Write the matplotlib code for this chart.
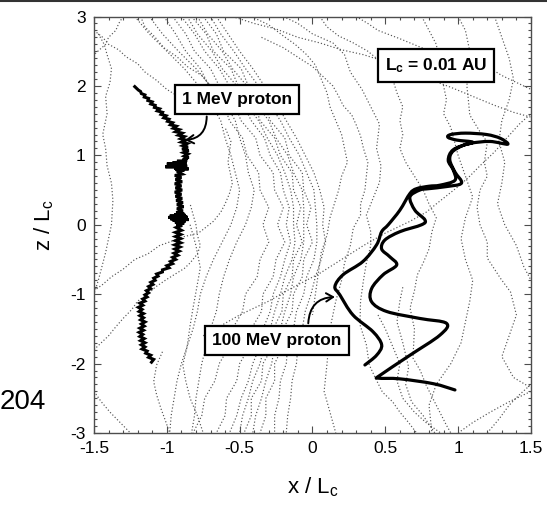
import matplotlib
matplotlib.use("Agg")
import matplotlib.pyplot as plt
from matplotlib.lines import Line2D
from matplotlib.path import Path
from matplotlib.patches import PathPatch

plt.rcParams['font.family'] = ['Liberation Sans', 'DejaVu Sans']
plt.rcParams['mathtext.fontset'] = 'custom'
plt.rcParams['mathtext.rm'] = 'Liberation Sans'
plt.rcParams['mathtext.it'] = 'Liberation Sans:italic'
plt.rcParams['mathtext.bf'] = 'Liberation Sans:bold'

# ---- axis setup ----
x_ticks = [-1.5, -1, -0.5, 0, 0.5, 1, 1.5]
x_tick_labels = ['-1.5', '-1', '-0.5', '0', '0.5', '1', '1.5']
z_ticks = [-3, -2, -1, 0, 1, 2, 3]
z_tick_labels = ['-3', '-2', '-1', '0', '1', '2', '3']

# ---- 1 MeV proton trajectory (x, z), in pieces from top to bottom ----
p1_upper_x = [-1.220, -1.205, -1.195, -1.180, -1.175, -1.150, -1.155, -1.125, -1.130, -1.100,
              -1.110, -1.080, -1.085, -1.050, -1.065, -1.030, -1.040, -1.005, -1.020, -0.985,
              -0.995, -0.960, -0.975, -0.935, -0.955, -0.915, -0.940, -0.895, -0.920, -0.880,
              -0.905, -0.870, -0.900, -0.860, -0.890, -0.855, -0.895, -0.850, -0.885, -0.855,
              -0.880, -0.850]
p1_upper_z = [1.99, 1.96, 1.94, 1.92, 1.89, 1.87, 1.84, 1.82, 1.79, 1.77,
              1.74, 1.72, 1.69, 1.67, 1.64, 1.62, 1.59, 1.57, 1.54, 1.52,
              1.49, 1.47, 1.44, 1.42, 1.39, 1.37, 1.34, 1.32, 1.29, 1.27,
              1.24, 1.22, 1.19, 1.17, 1.14, 1.12, 1.09, 1.07, 1.04, 1.02,
              0.99, 0.97]
p1_burst1_x = [-0.890, -0.860, -0.930, -0.870, -0.960, -0.865, -1.000, -0.870, -0.980, -0.860,
               -1.010, -0.875, -0.950, -0.850, -0.940, -0.880, -0.930]
p1_burst1_z = [0.94, 0.925, 0.915, 0.905, 0.895, 0.885, 0.875, 0.865, 0.855, 0.845,
               0.835, 0.825, 0.815, 0.805, 0.795, 0.785, 0.77]
p1_mid_x = [-0.895, -0.945, -0.900, -0.940, -0.895, -0.945, -0.900, -0.940, -0.895, -0.945,
            -0.900, -0.940, -0.895, -0.935, -0.890, -0.930, -0.885, -0.930, -0.890]
p1_mid_z = [0.73, 0.71, 0.68, 0.65, 0.62, 0.59, 0.56, 0.53, 0.50, 0.47,
            0.44, 0.41, 0.38, 0.35, 0.32, 0.29, 0.26, 0.23, 0.20]
p1_burst2_x = [-0.935, -0.880, -0.950, -0.870, -0.980, -0.860, -0.990, -0.855, -0.975, -0.850,
               -0.960, -0.870, -0.945, -0.880, -0.935, -0.895]
p1_burst2_z = [0.17, 0.155, 0.145, 0.135, 0.125, 0.115, 0.105, 0.095, 0.085, 0.075,
               0.065, 0.055, 0.04, 0.025, 0.01, -0.01]
p1_lower_x = [-0.935, -0.900, -0.940, -0.905, -0.940, -0.905, -0.940, -0.905, -0.945, -0.910,
              -0.945, -0.915, -0.950, -0.925, -0.960, -0.940, -0.975, -0.960, -1.000, -0.985,
              -1.030, -1.030, -1.070, -1.060, -1.090, -1.080, -1.110, -1.095, -1.125, -1.110,
              -1.140, -1.125, -1.150, -1.135, -1.165, -1.150, -1.185, -1.165, -1.195, -1.170,
              -1.190, -1.160, -1.185, -1.160, -1.180, -1.150, -1.175, -1.155, -1.185, -1.160,
              -1.190, -1.165, -1.185, -1.155, -1.180, -1.150, -1.175, -1.150, -1.170, -1.135,
              -1.145, -1.110, -1.125, -1.090, -1.105]
p1_lower_z = [-0.04, -0.08, -0.11, -0.14, -0.17, -0.20, -0.23, -0.26, -0.29, -0.32,
              -0.35, -0.38, -0.41, -0.44, -0.47, -0.50, -0.53, -0.56, -0.59, -0.62,
              -0.65, -0.68, -0.71, -0.74, -0.77, -0.80, -0.83, -0.86, -0.89, -0.92,
              -0.95, -0.98, -1.01, -1.04, -1.07, -1.10, -1.13, -1.16, -1.19, -1.22,
              -1.25, -1.28, -1.31, -1.34, -1.37, -1.40, -1.43, -1.46, -1.49, -1.52,
              -1.55, -1.58, -1.61, -1.64, -1.67, -1.70, -1.73, -1.76, -1.79, -1.82,
              -1.85, -1.88, -1.91, -1.94, -1.98]

p1_x = p1_upper_x + p1_burst1_x + p1_mid_x + p1_burst2_x + p1_lower_x
p1_z = p1_upper_z + p1_burst1_z + p1_mid_z + p1_burst2_z + p1_lower_z

# ---- 100 MeV proton trajectory (x, z) ----
p100_x = [0.360, 0.440, 0.475, 0.415, 0.278, 0.188, 0.154, 0.210, 0.346, 0.440,
          0.475, 0.520, 0.600, 0.669, 0.715, 0.800, 0.875, 0.978, 0.966, 0.932,
          0.966, 1.080, 1.218, 1.340, 1.290, 1.195, 1.050, 0.950, 0.930, 0.990,
          1.100, 1.030, 0.960, 0.943, 0.978, 1.023, 0.920, 0.800, 0.737, 0.669,
          0.703, 0.772, 0.749, 0.600, 0.497, 0.475, 0.530, 0.578, 0.485, 0.406,
          0.406, 0.510, 0.737, 0.920, 0.875, 0.669, 0.463, 0.452, 0.600, 0.830,
          0.978]
p100_z = [-2.02, -1.88, -1.73, -1.54, -1.30, -1.01, -0.89, -0.72, -0.53, -0.29,
          -0.10, 0.00, 0.21, 0.45, 0.52, 0.555, 0.57, 0.64, 0.79, 0.93,
          1.08, 1.17, 1.20, 1.16, 1.245, 1.30, 1.32, 1.30, 1.26, 1.22,
          1.19, 1.14, 1.05, 0.93, 0.76, 0.60, 0.55, 0.52, 0.50, 0.40,
          0.21, 0.07, 0.00, -0.10, -0.22, -0.35, -0.46, -0.58, -0.72, -0.92,
          -1.11, -1.25, -1.35, -1.42, -1.59, -1.88, -2.17, -2.21, -2.22, -2.29,
          -2.38]

# ---- magnetic field lines ----
# lines of the central bundle share these z levels
band_z = [3.0, 2.75, 2.5, 2.25, 2.0, 1.75, 1.5, 1.25, 1.0, 0.75, 0.5, 0.25, 0.0,
          -0.25, -0.5, -0.75, -1.0, -1.25, -1.5, -1.75, -2.0, -2.25, -2.5, -2.75, -3.0]
band_a1_x = [-0.90, -0.81, -0.74, -0.64, -0.57, -0.48, -0.42, -0.33, -0.29, -0.22, -0.20, -0.16, -0.18,
             -0.15, -0.19, -0.22, -0.27, -0.29, -0.34, -0.36, -0.41, -0.44, -0.49, -0.52, -0.57]
band_a2_x = [-0.86, -0.79, -0.69, -0.62, -0.52, -0.46, -0.37, -0.31, -0.24, -0.19, -0.15, -0.13, -0.13,
             -0.12, -0.14, -0.19, -0.22, -0.26, -0.29, -0.33, -0.36, -0.41, -0.44, -0.48, -0.50]
band_a3_x = [-0.83, -0.73, -0.68, -0.56, -0.51, -0.40, -0.36, -0.26, -0.22, -0.14, -0.13, -0.08, -0.11,
             -0.07, -0.13, -0.14, -0.20, -0.21, -0.27, -0.27, -0.34, -0.35, -0.42, -0.42, -0.47]
band_a4_x = [-0.79, -0.72, -0.62, -0.55, -0.45, -0.39, -0.30, -0.25, -0.17, -0.13, -0.07, -0.06, -0.06,
             -0.06, -0.08, -0.13, -0.15, -0.19, -0.22, -0.26, -0.28, -0.32, -0.35, -0.39, -0.41]
band_a5_x = [-0.75, -0.66, -0.61, -0.49, -0.44, -0.33, -0.29, -0.19, -0.16, -0.07, -0.06, -0.01, -0.04,
             0.00, -0.06, -0.07, -0.13, -0.14, -0.20, -0.20, -0.26, -0.26, -0.32, -0.32, -0.36]
band_a6_x = [-0.96, -0.87, -0.81, -0.70, -0.64, -0.54, -0.49, -0.39, -0.36, -0.27, -0.26, -0.20, -0.24,
             -0.19, -0.25, -0.27, -0.34, -0.35, -0.42, -0.43, -0.50, -0.52, -0.59, -0.60, -0.66]
band_a7_x = [-0.70, -0.63, -0.54, -0.46, -0.37, -0.30, -0.22, -0.16, -0.09, -0.04, 0.01, 0.02, 0.03,
             0.03, 0.01, -0.04, -0.06, -0.11, -0.13, -0.17, -0.18, -0.22, -0.23, -0.26, -0.26]
band_a8_x = [-1.02, -0.94, -0.87, -0.77, -0.71, -0.61, -0.57, -0.48, -0.45, -0.37, -0.36, -0.30, -0.34,
             -0.30, -0.36, -0.38, -0.46, -0.48, -0.55, -0.57, -0.64, -0.67, -0.74, -0.76, -0.82]
band_a9_x = [-0.66, -0.58, -0.50, -0.41, -0.33, -0.25, -0.18, -0.11, -0.05, 0.01, 0.05, 0.08, 0.07,
             0.09, 0.06, 0.02, -0.01, -0.05, -0.07, -0.10, -0.11, -0.14, -0.15, -0.17, -0.18]
band_b1_x = [-1.22, -1.12, -1.00, -0.88, -0.78, -0.70, -0.63, -0.60, -0.56, -0.53, -0.50, -0.52, -0.56,
             -0.62, -0.68, -0.73, -0.77, -0.79, -0.82, -0.86, -0.90, -0.93, -0.95, -0.97, -0.98]
band_b2_x = [-1.12, -1.03, -0.92, -0.80, -0.70, -0.60, -0.53, -0.50, -0.46, -0.44, -0.40, -0.42, -0.46,
             -0.52, -0.57, -0.61, -0.64, -0.66, -0.70, -0.73, -0.76, -0.78, -0.80, -0.81, -0.83]

# individual field lines as (x, z) vertices
fl_left_edge = [(-1.47, 2.75), (-1.43, 2.6), (-1.41, 2.45), (-1.38, 2.25), (-1.39, 2.05), (-1.42, 1.85),
                (-1.41, 1.6), (-1.44, 1.3), (-1.42, 1.1), (-1.41, 0.85), (-1.38, 0.6), (-1.37, 0.35),
                (-1.38, 0.0), (-1.42, -0.4), (-1.47, -0.8), (-1.5, -1.0)]
fl_corner_diag = [(-1.5, 2.8), (-1.44, 2.7), (-1.4, 2.6), (-1.33, 2.52), (-1.28, 2.42), (-1.2, 2.32),
                  (-1.15, 2.2), (-1.07, 2.08), (-1.0, 1.95), (-0.93, 1.86)]
fl_corner_arc = [(-1.3, 3.0), (-1.33, 2.9), (-1.35, 2.8), (-1.4, 2.7), (-1.42, 2.6), (-1.5, 2.45)]
fl_top_left = [(-1.18, 3.0), (-1.15, 2.85), (-1.08, 2.7), (-1.02, 2.55), (-0.93, 2.42), (-0.86, 2.28),
               (-0.76, 2.15), (-0.7, 2.0)]
fl_low_left1 = [(-1.5, -0.95), (-1.44, -0.86), (-1.38, -0.75), (-1.3, -0.64), (-1.22, -0.5),
                (-1.13, -0.42), (-1.05, -0.3), (-0.97, -0.24), (-0.9, -0.18), (-0.82, -0.14),
                (-0.77, -0.1), (-0.71, 0.0), (-0.68, 0.05), (-0.63, 0.18), (-0.6, 0.3),
                (-0.57, 0.45), (-0.55, 0.6), (-0.58, 0.9), (-0.56, 1.2), (-0.6, 1.4)]
fl_low_left2 = [(-1.5, -1.8), (-1.45, -1.7), (-1.4, -1.6), (-1.35, -1.47), (-1.3, -1.35),
                (-1.24, -1.22), (-1.2, -1.1), (-1.13, -1.0), (-1.08, -0.9), (-1.01, -0.8),
                (-0.95, -0.72), (-0.88, -0.63), (-0.84, -0.55), (-0.79, -0.42), (-0.77, -0.3),
                (-0.79, -0.15), (-0.8, 0.0), (-0.82, 0.15), (-0.84, 0.3)]
fl_low_corner = [(-1.5, -2.4), (-1.45, -2.55), (-1.39, -2.7), (-1.32, -2.85), (-1.25, -3.0)]
fl_mid_left = [(-0.84, 0.0), (-0.8, -0.3), (-0.77, -0.62), (-0.8, -0.97), (-0.82, -1.2),
               (-0.84, -1.45), (-0.86, -1.75), (-0.89, -2.02), (-0.87, -2.25), (-0.84, -2.5),
               (-0.79, -2.75), (-0.75, -3.0)]
fl_track_low = [(-1.03, -1.83), (-1.07, -2.02), (-1.09, -2.26), (-1.07, -2.45), (-1.04, -2.65),
                (-1.01, -2.82), (-0.98, -3.0)]
fl_top_fan1 = [(-0.55, 3.0), (-0.4, 2.9), (-0.25, 2.82), (-0.1, 2.7), (0.05, 2.62), (0.2, 2.52),
               (0.35, 2.45), (0.5, 2.35), (0.65, 2.2), (0.8, 2.1), (0.95, 1.98), (1.1, 1.85),
               (1.25, 1.72), (1.38, 1.62), (1.5, 1.55)]
fl_top_fan2 = [(0.3, 3.0), (0.38, 2.9), (0.45, 2.8), (0.6, 2.68), (0.75, 2.55), (0.9, 2.45),
               (1.05, 2.35), (1.2, 2.28), (1.3, 2.15), (1.4, 2.05), (1.5, 1.95)]
fl_top_fan3 = [(-0.35, 2.7), (-0.2, 2.55), (-0.09, 2.4), (0.0, 2.28), (0.08, 2.12), (0.14, 2.0),
               (0.18, 1.85), (0.21, 1.72), (0.27, 1.58), (0.3, 1.44), (0.33, 1.28), (0.35, 1.1),
               (0.38, 0.9), (0.37, 0.7), (0.36, 0.5), (0.33, 0.3), (0.33, 0.14), (0.28, -0.05),
               (0.26, -0.3), (0.22, -0.55), (0.2, -0.8), (0.16, -1.1), (0.12, -1.5), (0.1, -2.0),
               (0.08, -2.4), (0.12, -2.7), (0.16, -3.0)]
fl_top_fan4 = [(0.05, 3.0), (0.1, 2.85), (0.18, 2.72), (0.28, 2.62), (0.38, 2.5), (0.45, 2.38),
               (0.55, 2.1), (0.58, 1.9), (0.62, 1.7), (0.6, 1.5), (0.62, 1.3), (0.6, 1.1),
               (0.64, 0.9), (0.7, 0.7), (0.76, 0.5), (0.8, 0.3), (0.85, 0.1), (0.82, -0.1),
               (0.8, -0.35), (0.76, -0.55), (0.72, -0.72), (0.7, -0.95), (0.67, -1.2), (0.7, -1.5),
               (0.69, -1.92), (0.74, -2.1), (0.78, -2.31), (0.85, -2.6), (0.92, -2.89), (0.95, -3.0)]
fl_top_fan5 = [(-0.2, 3.0), (-0.1, 2.9), (0.0, 2.75), (0.14, 2.62), (0.22, 2.45), (0.26, 2.2),
               (0.34, 1.95), (0.4, 1.7), (0.46, 1.45), (0.44, 1.1), (0.47, 0.85), (0.46, 0.61),
               (0.41, 0.35), (0.37, 0.14), (0.4, -0.1), (0.4, -0.3), (0.37, -0.55), (0.35, -0.8),
               (0.33, -1.1), (0.326, -1.44), (0.37, -1.73), (0.39, -2.02), (0.43, -2.2),
               (0.48, -2.41), (0.55, -2.55), (0.6, -2.7), (0.66, -2.85), (0.715, -3.0)]
fl_top_fan6 = [(-0.42, 3.0), (-0.3, 2.88), (-0.2, 2.72), (-0.12, 2.6), (-0.04, 2.45), (0.02, 2.3),
               (0.06, 2.1), (0.1, 1.9), (0.12, 1.7), (0.16, 1.5), (0.2, 1.3), (0.22, 1.1),
               (0.24, 0.9), (0.2, 0.7), (0.18, 0.5), (0.15, 0.3), (0.12, 0.1), (0.1, -0.15),
               (0.06, -0.4), (0.04, -0.7), (0.02, -1.0), (0.0, -1.3)]
fl_diag_long = [(-0.75, -1.6), (-0.5, -1.3), (-0.3, -1.1), (-0.15, -0.92), (0.05, -0.7),
                (0.2, -0.5), (0.35, -0.3), (0.5, -0.12), (0.67, 0.05), (0.78, 0.18),
                (0.85, 0.3), (1.0, 0.55), (1.08, 0.7), (1.15, 0.85), (1.25, 1.05),
                (1.33, 1.24), (1.42, 1.45), (1.5, 1.6)]
fl_right1 = [(1.0, 3.0), (1.05, 2.8), (1.08, 2.5), (1.06, 2.0), (1.07, 1.8), (1.08, 1.58),
             (1.15, 1.34), (1.2, 1.19), (1.18, 0.9), (1.2, 0.7), (1.15, 0.5), (1.13, 0.25),
             (1.15, 0.0), (1.2, -0.25), (1.2, -0.48), (1.29, -0.77), (1.36, -0.97), (1.4, -1.3),
             (1.35, -1.6), (1.3, -1.9), (1.38, -2.2), (1.5, -2.35)]
fl_right2 = [(1.25, 3.0), (1.3, 2.7), (1.35, 2.4), (1.38, 2.1), (1.35, 1.8), (1.3, 1.5),
             (1.28, 1.2), (1.32, 0.9), (1.3, 0.6), (1.27, 0.3), (1.32, 0.0), (1.4, -0.3),
             (1.45, -0.6), (1.5, -0.8)]
fl_right3 = [(0.75, 3.0), (0.8, 2.8), (0.85, 2.6), (0.9, 2.0), (0.92, 1.8), (0.9, 1.6),
             (0.95, 1.4), (1.0, 1.0), (1.05, 0.7), (1.1, 0.4), (1.05, 0.1), (1.02, -0.2),
             (1.05, -0.5), (1.1, -0.8), (1.08, -1.1), (1.05, -1.4), (1.02, -1.7), (0.95, -2.0),
             (0.85, -2.3), (0.8, -2.6), (0.82, -3.0)]
fl_low_right1 = [(0.45, -1.3), (0.5, -1.5), (0.55, -1.75), (0.6, -2.0), (0.58, -2.25),
                 (0.62, -2.5), (0.7, -2.7), (0.78, -2.85), (0.88, -3.0)]
fl_low_right2 = [(0.62, -0.9), (0.6, -1.1), (0.58, -1.4), (0.62, -1.7), (0.66, -2.05),
                 (0.64, -2.3), (0.68, -2.55), (0.76, -2.75), (0.84, -3.0)]
fl_low_right3 = [(1.0, -3.0), (1.1, -2.85), (1.22, -2.7), (1.35, -2.55), (1.5, -2.4)]
fl_low_right4 = [(1.2, -3.0), (1.28, -2.8), (1.35, -2.6), (1.42, -2.45), (1.5, -2.3)]

band_lines = [band_a1_x, band_a2_x, band_a3_x, band_a4_x, band_a5_x, band_a6_x,
              band_a7_x, band_a8_x, band_a9_x, band_b1_x, band_b2_x]
vertex_lines = [fl_left_edge, fl_corner_diag, fl_corner_arc, fl_top_left, fl_low_left1,
                fl_low_left2, fl_low_corner, fl_mid_left, fl_track_low, fl_top_fan1,
                fl_top_fan2, fl_top_fan3, fl_top_fan4, fl_top_fan5, fl_top_fan6, fl_diag_long,
                fl_right1, fl_right2, fl_right3, fl_low_right1, fl_low_right2,
                fl_low_right3, fl_low_right4]


def smooth_path(xs, ys):
    """Cubic Bezier path passing through every given vertex."""
    pts = list(zip(xs, ys))
    verts = [pts[0]]
    codes = [Path.MOVETO]
    n = len(pts)
    for i in range(n - 1):
        p0 = pts[i - 1] if i > 0 else pts[i]
        p1 = pts[i]
        p2 = pts[i + 1]
        p3 = pts[i + 2] if i + 2 < n else pts[i + 1]
        c1 = (p1[0] + (p2[0] - p0[0]) / 6, p1[1] + (p2[1] - p0[1]) / 6)
        c2 = (p2[0] - (p3[0] - p1[0]) / 6, p2[1] - (p3[1] - p1[1]) / 6)
        verts += [c1, c2, p2]
        codes += [Path.CURVE4] * 3
    return Path(verts, codes)


# ---- figure ----
fig = plt.figure(figsize=(5.47, 5.05), dpi=100)
ax = fig.add_axes([0.1718, 0.1426, 0.7989, 0.8247])

dot_style = dict(color='0.33', lw=0.85, linestyle=(0, (1, 1.8)), zorder=1)
for xs in band_lines:
    ax.plot(xs, band_z, **dot_style)
for line in vertex_lines:
    ax.plot([p[0] for p in line], [p[1] for p in line], **dot_style)

ax.plot(p1_x, p1_z, color='black', lw=2.2, solid_joinstyle='miter', zorder=3)
ax.add_patch(PathPatch(smooth_path(p100_x, p100_z), fc='none', ec='black', lw=2.3,
                       joinstyle='round', capstyle='round', zorder=3))

box_kw = dict(boxstyle='square,pad=0.4', fc='white', ec='black', lw=1.6)
ax.text(-0.52, 1.81, '1 MeV proton', fontsize=12.5, fontweight='bold', ha='center',
        va='center', bbox=box_kw, zorder=5)
ax.text(-0.244, -1.673, '100 MeV proton', fontsize=12.5, fontweight='bold', ha='center',
        va='center', bbox=box_kw, zorder=5)
ax.text(0.849, 2.294, r'$\mathbf{L_c}$ = 0.01 AU', fontsize=12.5, fontweight='bold',
        ha='center', va='center', bbox=box_kw, zorder=5)

arrow_kw = dict(arrowstyle='->,head_length=0.5,head_width=0.3', color='black', lw=1.4,
                shrinkA=0, shrinkB=0)
ax.annotate('', xy=(-0.875, 1.22), xytext=(-0.726, 1.56),
            arrowprops=dict(connectionstyle='arc3,rad=-0.45', **arrow_kw), zorder=5)
ax.annotate('', xy=(0.154, -1.04), xytext=(-0.029, -1.42),
            arrowprops=dict(connectionstyle='arc3,rad=-0.45', **arrow_kw), zorder=5)

ax.set_xlim(-1.5, 1.5)
ax.set_ylim(-3, 3)
ax.set_xticks(x_ticks)
ax.set_xticklabels(x_tick_labels)
ax.set_yticks(z_ticks)
ax.set_yticklabels(z_tick_labels)
ax.set_xticks([v / 10 for v in range(-15, 16)], minor=True)
ax.set_yticks([v / 10 for v in range(-30, 31)], minor=True)
ax.tick_params(which='both', direction='in', top=True, right=True, color='0.3',
               labelsize=12.5, width=0.8)
ax.tick_params(which='major', length=5, pad=6)
ax.tick_params(which='minor', length=2.5)
for s in ax.spines.values():
    s.set_color('0.3')
    s.set_linewidth(1.0)

ax.set_xlabel(r'x / $\mathregular{L_c}$', fontsize=16, labelpad=14)
ax.set_ylabel(r'z / $\mathregular{L_c}$', fontsize=16, labelpad=10)

fig.text(0.0, 1 - 402 / 505, '204', fontsize=20, ha='left', va='center')
fig.add_artist(Line2D([0, 1], [0.998, 0.998], transform=fig.transFigure, color='0.2', lw=1.5))

fig.savefig('out.png', dpi=100)
